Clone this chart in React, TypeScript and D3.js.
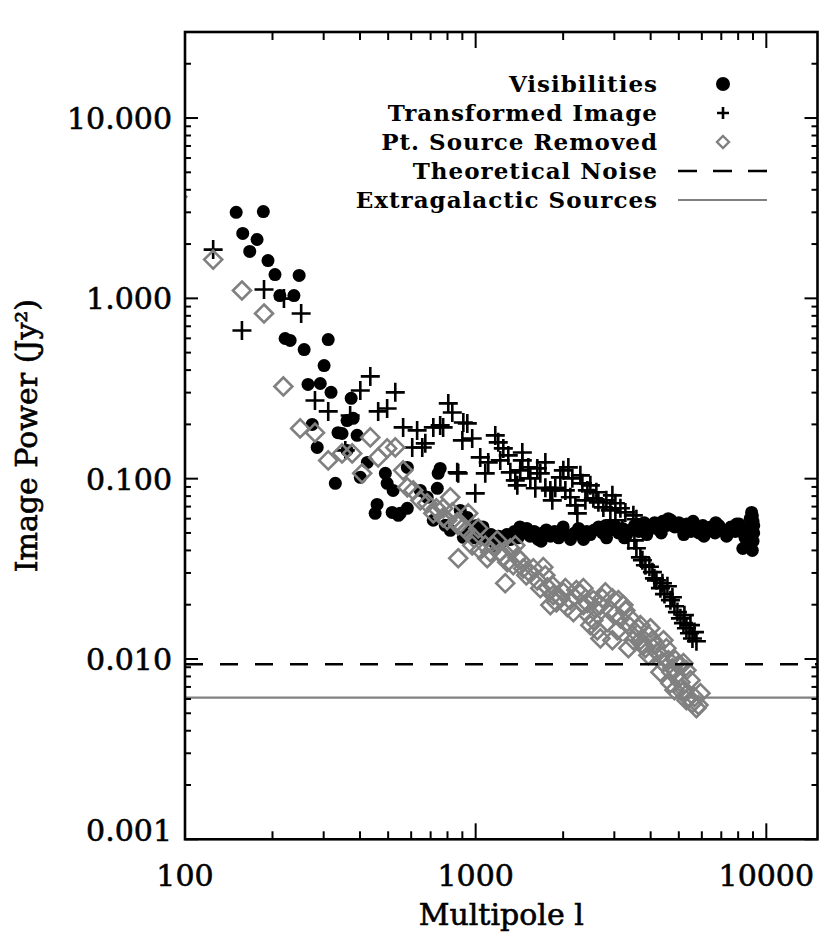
import React, { useRef, useEffect } from 'react';
import * as d3 from 'd3';

// Visibilities (filled circles): multipole l and image power (Jy^2)
const ellVis = [
  150, 186, 158, 177, 167, 193, 204, 247, 212, 237, 221, 230, 311, 257, 301, 265, 292, 318, 373, 274,
  285, 361, 379, 336, 347, 391, 361, 329, 424, 401, 489, 496, 520, 458, 451, 516, 542, 582, 582, 755,
  743, 738, 681, 885, 936, 645, 818, 907, 715, 786, 550,
  960, 990, 1020, 1060, 1090, 1130, 1160, 1200, 1240, 1280,
  1320, 1360, 1400, 1450, 1500, 1540, 1590, 1640, 1700, 1750,
  1810, 1870, 1930, 1990, 2050, 2120, 2190, 2260, 2330, 2410,
  2480, 2560, 2650, 2730, 2820, 2910, 3010, 3100, 3200, 3310,
  3410, 3520, 3640, 3750, 3880, 4000, 4130, 4270, 4400, 4550,
  4690, 4840, 5000, 5160, 5330, 5500, 5680, 5860, 6050, 6250,
  6450, 6660, 6870, 7100, 7330, 7560, 7810, 8060, 8320, 8590, 8870,
  8900, 8800, 8700, 8950, 9000, 9000, 8950, 8300, 8800, 9050, 9050,
  1010, 1180, 1420, 1680, 2000, 2350, 2800, 3250, 3800, 4350, 4600, 5200, 5600, 6100, 6700, 7300, 7900, 8450,
];
const powVis = [
  3.0, 3.03, 2.29, 2.12, 1.82, 1.62, 1.355, 1.34, 1.036, 1.036, 0.599, 0.584, 0.591, 0.52, 0.424, 0.333, 0.337, 0.301, 0.279, 0.2,
  0.149, 0.21, 0.216, 0.18, 0.178, 0.174, 0.1435, 0.0942, 0.123, 0.1017, 0.107, 0.0942, 0.0861, 0.072, 0.0642, 0.065, 0.0626, 0.0685, 0.1155, 0.114,
  0.107, 0.0884, 0.0788, 0.0667, 0.061, 0.0861, 0.0517, 0.0473, 0.0588, 0.0551, 0.0642,
  0.052, 0.047, 0.05, 0.054, 0.046, 0.049, 0.044, 0.048, 0.045, 0.049,
  0.046, 0.051, 0.047, 0.05, 0.053, 0.048, 0.051, 0.046, 0.05, 0.052,
  0.048, 0.051, 0.047, 0.052, 0.049, 0.046, 0.05, 0.053, 0.048, 0.051,
  0.049, 0.052, 0.054, 0.05, 0.047, 0.052, 0.055, 0.05, 0.053, 0.049,
  0.052, 0.055, 0.051, 0.054, 0.049, 0.053, 0.057, 0.052, 0.058, 0.055,
  0.059, 0.054, 0.057, 0.052, 0.056, 0.051, 0.054, 0.05, 0.055, 0.052,
  0.054, 0.05, 0.055, 0.052, 0.049, 0.054, 0.051, 0.056, 0.05, 0.053, 0.048,
  0.065, 0.06, 0.042, 0.04, 0.045, 0.058, 0.062, 0.041, 0.044, 0.055, 0.05,
  0.055, 0.042, 0.054, 0.045, 0.054, 0.046, 0.055, 0.047, 0.057, 0.05, 0.06, 0.049, 0.058, 0.048, 0.057, 0.048, 0.056, 0.047,
];

// Transformed Image (plus signs)
const ellImg = [
  125, 187, 219, 251, 157, 434, 401, 529, 280, 311, 462, 496, 805, 831, 563, 629, 755, 715, 907, 900,
  605, 671, 655, 871, 370, 356, 773, 936, 973, 1168, 1196, 1245, 1037, 1105, 1079, 864, 997, 1447, 1447, 1316,
  1369, 1391, 1518, 1630, 1669, 1737, 1807, 1835, 2003, 2084, 1956, 2292, 2329, 2423, 2117, 2203, 2238, 2541, 2644, 2750,
  2907, 3148, 3488, 3573, 3025, 3198,
  1295, 1542, 1737, 1879, 2035, 2151, 2481, 2602, 2816, 3025, 3274, 2954, 2385, 1604, 1424, 1215,
  3354, 3573, 3688, 3837, 3961, 4056, 4187, 4322, 4462, 4568, 4678, 4830, 4946, 5064, 5187, 5311, 5439, 5570, 5749, 5483,
  3517, 3747, 4121, 4391, 4753, 5227, 5659,
];
const powImg = [
  1.864, 1.119, 0.997, 0.824, 0.663, 0.369, 0.308, 0.301, 0.2715, 0.236, 0.236, 0.245, 0.2614, 0.233, 0.1924, 0.1852, 0.1974, 0.1924, 0.205, 0.163,
  0.149, 0.157, 0.149, 0.107, 0.224, 0.1435, 0.1924, 0.2025, 0.167, 0.1738, 0.159, 0.1472, 0.1312, 0.1231, 0.107, 0.1084, 0.0829, 0.1398, 0.1263, 0.1084,
  0.0979, 0.0918, 0.1155, 0.114, 0.107, 0.0891, 0.0861, 0.0758, 0.1112, 0.1155, 0.1017, 0.1043, 0.0942, 0.0861, 0.0788, 0.0711, 0.0642, 0.0778, 0.0739, 0.0693,
  0.0667, 0.0685, 0.0626, 0.0595, 0.0588, 0.053,
  0.1346, 0.1004, 0.1231, 0.0891, 0.0861, 0.1004, 0.0918, 0.084, 0.0758, 0.073, 0.065, 0.0808, 0.0758, 0.0884, 0.1112, 0.1263,
  0.0455, 0.0411, 0.0366, 0.0331, 0.0325, 0.0303, 0.0273, 0.0247, 0.0229, 0.0253, 0.0212, 0.0196, 0.0182, 0.0168, 0.0158, 0.0148, 0.0139, 0.013, 0.01255, 0.0154,
  0.0455, 0.0353, 0.028, 0.0263, 0.022, 0.0175, 0.0141,
];

// Pt. Source Removed (grey diamonds)
const ellSrc = [
  94, 125, 157, 187, 218, 249, 280, 311, 347, 376, 434, 407, 462, 496, 529, 563, 610, 645, 681, 818,
  715, 773, 864, 907, 582, 773, 871, 943, 871, 973, 1037, 1096, 1150, 1215, 1285, 1369, 1391, 1458, 1264, 1542,
  1630, 1709, 1765, 1850, 1956, 1807, 2068, 2169, 2292, 2423, 2541, 2541, 2622, 2347, 2686, 2907, 3097, 3148, 3354, 2686,
  3544, 3688, 3992, 3837, 4153, 4322, 4426, 4605, 4753, 4906, 5064, 5187, 5227, 5396, 5570, 5749, 5483, 5934, 4678, 3274,
  2795, 2954, 2035, 3688, 3929, 4867, 5311,
  732, 798, 831, 928, 989, 1021, 1079, 1123, 1187, 1245, 1316, 1347, 1424, 1494, 1579, 1669, 1737, 1835, 1895, 2003,
  2117, 2221, 2347, 2441, 2582, 2729, 2839, 3001, 3073, 3223, 3408, 3488, 3630, 3777, 4056, 4220, 4391, 4531, 4716, 4830,
  4985, 5145, 5311, 5659, 5842, 4322, 3929, 3354, 2954, 2481,
];
const powSrc = [
  3.66, 1.64, 1.105, 0.824, 0.3246, 0.19, 0.18, 0.1263, 0.138, 0.138, 0.1693, 0.107, 0.1312, 0.1472, 0.149, 0.1112, 0.0861, 0.0758, 0.073, 0.0788,
  0.0642, 0.061, 0.0573, 0.0537, 0.0895, 0.0685, 0.0551, 0.0642, 0.0362, 0.0427, 0.0401, 0.0362, 0.0427, 0.0391, 0.0344, 0.0427, 0.0366, 0.0318, 0.0263, 0.0299,
  0.0273, 0.0323, 0.025, 0.0226, 0.0217, 0.0199, 0.0194, 0.0182, 0.0231, 0.0204, 0.0212, 0.0164, 0.0144, 0.0247, 0.0199, 0.0186, 0.0212, 0.0168, 0.0154, 0.013,
  0.0141, 0.0127, 0.0148, 0.01148, 0.01193, 0.0105, 0.0127, 0.00985, 0.0089, 0.00813, 0.00744, 0.00948, 0.00672, 0.00614, 0.00569, 0.00534, 0.00763, 0.00646, 0.00734, 0.0186,
  0.0234, 0.0217, 0.0247, 0.0154, 0.01355, 0.00985, 0.00866,
  0.0685, 0.0588, 0.065, 0.0517, 0.0467, 0.053, 0.0427, 0.0391, 0.0455, 0.0371, 0.0411, 0.0331, 0.0353, 0.0291, 0.0318, 0.0247, 0.0291, 0.0256, 0.0206, 0.0234,
  0.0212, 0.0241, 0.0199, 0.0175, 0.0191, 0.0217, 0.016, 0.0175, 0.0144, 0.0199, 0.0168, 0.0127, 0.0148, 0.01193, 0.0127, 0.0109, 0.0096, 0.01148, 0.00845, 0.00672,
  0.00924, 0.00655, 0.00591, 0.00614, 0.00555, 0.00845, 0.0105, 0.01148, 0.0127, 0.0154,
];

const noiseLevel = 0.00935;
const extragalacticLevel = 0.0061;

const legendLabels = ['Visibilities', 'Transformed Image', 'Pt. Source Removed', 'Theoretical Noise', 'Extragalactic Sources'];
const xTickValues = [100, 1000, 10000];
const yTickValues = [0.001, 0.01, 0.1, 1, 10];

const W = 832;
const H = 946;
const FONT = '"DejaVu Serif", serif';
const GREY = '#808080';

const plusPath = (s: number) => `M${-s},0H${s}M0,${-s}V${s}`;
const diamondPath = (s: number) => `M0,${-s}L${s},0L0,${s}L${-s},0Z`;

const App = () => {
  const ref = useRef<SVGSVGElement>(null);

  useEffect(() => {
    const svg = d3.select(ref.current);
    svg.selectAll('*').remove();

    const x = d3.scaleLog().domain([100, 15000]).range([185, 817.5]);
    const y = d3.scaleLog().domain([0.001, 30]).range([839.3, 32]);
    const [x0, x1] = x.range();
    const [y0, y1] = y.range();

    svg.append('rect').attr('width', W).attr('height', H).attr('fill', 'white');

    svg.append('clipPath').attr('id', 'plotclip')
      .append('rect').attr('x', x0 - 1).attr('y', y1).attr('width', x1 - x0 + 1).attr('height', y0 - y1);

    const plot = svg.append('g').attr('clip-path', 'url(#plotclip)');

    // visibilities
    plot.append('g').selectAll('circle')
      .data(d3.zip(ellVis, powVis))
      .join('circle')
      .attr('cx', d => x(d[0]))
      .attr('cy', d => y(d[1]))
      .attr('r', 6.5)
      .attr('fill', 'black');

    // transformed image
    plot.append('g').selectAll('path')
      .data(d3.zip(ellImg, powImg))
      .join('path')
      .attr('transform', d => `translate(${x(d[0])},${y(d[1])})`)
      .attr('d', plusPath(9.5))
      .attr('stroke', 'black')
      .attr('stroke-width', 2.6)
      .attr('fill', 'none');

    // point sources removed
    plot.append('g').selectAll('path')
      .data(d3.zip(ellSrc, powSrc))
      .join('path')
      .attr('transform', d => `translate(${x(d[0])},${y(d[1])})`)
      .attr('d', diamondPath(9))
      .attr('stroke', GREY)
      .attr('stroke-width', 2.6)
      .attr('fill', 'none');

    // reference levels
    svg.append('line')
      .attr('x1', x0).attr('x2', x1)
      .attr('y1', y(noiseLevel)).attr('y2', y(noiseLevel))
      .attr('stroke', 'black').attr('stroke-width', 2.6)
      .attr('stroke-dasharray', '18,17');
    svg.append('line')
      .attr('x1', x0).attr('x2', x1)
      .attr('y1', y(extragalacticLevel)).attr('y2', y(extragalacticLevel))
      .attr('stroke', GREY).attr('stroke-width', 2.2);

    // frame
    svg.append('rect')
      .attr('x', x0).attr('y', y1).attr('width', x1 - x0).attr('height', y0 - y1)
      .attr('fill', 'none').attr('stroke', 'black').attr('stroke-width', 2.6);

    // ticks, IDL style (inward on all four sides)
    const ticks = svg.append('g').attr('stroke', 'black').attr('stroke-width', 2);
    const xAll = x.ticks().filter(v => v >= 100 && v <= 15000);
    xAll.forEach(v => {
      const major = xTickValues.includes(v);
      const len = major ? 16 : 8;
      ticks.append('line').attr('x1', x(v)).attr('x2', x(v)).attr('y1', y0).attr('y2', y0 - len);
      ticks.append('line').attr('x1', x(v)).attr('x2', x(v)).attr('y1', y1).attr('y2', y1 + len);
    });
    const yAll = y.ticks().filter(v => v >= 0.001 && v <= 30);
    yAll.forEach(v => {
      const major = yTickValues.some(t => Math.abs(t - v) < 1e-9);
      const len = major ? 13 : 6;
      ticks.append('line').attr('y1', y(v)).attr('y2', y(v)).attr('x1', x0).attr('x2', x0 + len);
      ticks.append('line').attr('y1', y(v)).attr('y2', y(v)).attr('x1', x1).attr('x2', x1 - len);
    });

    // tick labels
    const textStyle = (sel: any, size: number) => sel
      .attr('font-family', FONT)
      .attr('font-size', size)
      .attr('fill', 'black')
      .attr('stroke', 'black')
      .attr('stroke-width', 0.6);

    svg.append('g').selectAll('text')
      .data(xTickValues)
      .join('text')
      .attr('x', d => x(d))
      .attr('y', 886)
      .attr('text-anchor', 'middle')
      .call(textStyle, 30)
      .text(d => String(d));

    svg.append('g').selectAll('text')
      .data(yTickValues)
      .join('text')
      .attr('x', 172)
      .attr('y', d => (d === 0.001 ? y(d) - 9 : y(d)) + 11)
      .attr('text-anchor', 'end')
      .call(textStyle, 30)
      .text(d => d3.format('.3f')(d));

    // axis titles
    svg.append('text')
      .attr('x', (x0 + x1) / 2).attr('y', 925)
      .attr('text-anchor', 'middle')
      .call(textStyle, 30)
      .text('Multipole l');
    svg.append('text')
      .attr('transform', `translate(37,${(y0 + y1) / 2}) rotate(-90)`)
      .attr('text-anchor', 'middle')
      .call(textStyle, 30)
      .text('Image Power (Jy²)');

    // legend
    const leg = svg.append('g');
    legendLabels.forEach((label, i) => {
      const base = 92 + i * 29;
      const cy = base - 8;
      leg.append('text')
        .attr('x', 658).attr('y', base)
        .attr('text-anchor', 'end')
        .attr('font-family', FONT).attr('font-weight', 'bold').attr('font-size', 23)
        .attr('letter-spacing', 1)
        .text(label);
      if (i === 0) {
        leg.append('circle').attr('cx', 723).attr('cy', cy).attr('r', 7).attr('fill', 'black');
      } else if (i === 1) {
        leg.append('path').attr('transform', `translate(723,${cy})`).attr('d', plusPath(6))
          .attr('stroke', 'black').attr('stroke-width', 2.6).attr('fill', 'none');
      } else if (i === 2) {
        leg.append('path').attr('transform', `translate(723,${cy})`).attr('d', diamondPath(6))
          .attr('stroke', GREY).attr('stroke-width', 2.4).attr('fill', 'none');
      } else if (i === 3) {
        leg.append('line').attr('x1', 678).attr('x2', 767).attr('y1', cy).attr('y2', cy)
          .attr('stroke', 'black').attr('stroke-width', 2.6).attr('stroke-dasharray', '19,16');
      } else {
        leg.append('line').attr('x1', 678).attr('x2', 767).attr('y1', cy).attr('y2', cy)
          .attr('stroke', GREY).attr('stroke-width', 2.2);
      }
    });
  }, []);

  return (
    <div style={{ position: 'absolute', left: 0, top: 0 }}>
      <svg ref={ref} width={W} height={H} style={{ display: 'block' }}></svg>
    </div>
  );
};

export default App;
